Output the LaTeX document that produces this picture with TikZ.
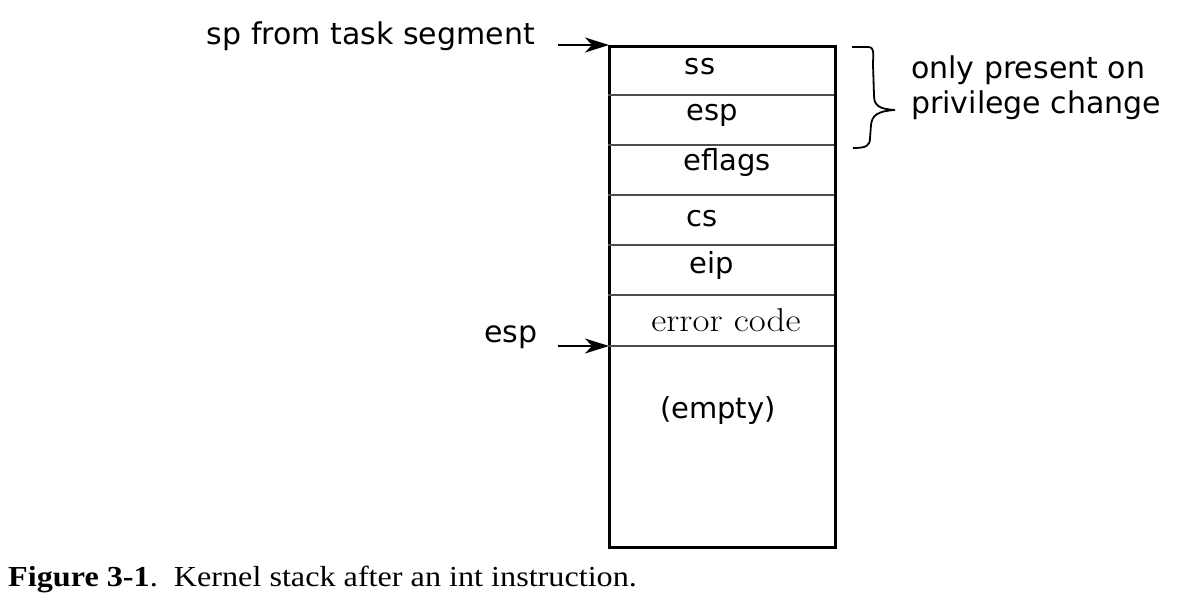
\documentclass[tikz,border=0pt]{standalone}
\usepackage{fontspec}
\setmainfont{Liberation Serif}
\newfontfamily\dvs{DejaVu Sans}
\newfontfamily\lmr{Latin Modern Roman}
\usetikzlibrary{arrows.meta}
\begin{document}
\begin{tikzpicture}[x=1pt,y=-1pt,
  lbl/.style={font=\dvs\fontsize{30}{36}\selectfont, inner sep=0pt},
  cell/.style={font=\dvs\fontsize{29}{34}\selectfont, inner sep=0pt},
  divider/.style={line width=1.4pt, draw=black!70},
  ptr/.style={line width=1.6pt, -{Stealth[length=24pt,width=15pt,inset=7pt]}}]
\useasboundingbox (0,0) rectangle (1199,612);
% stack box
\node[draw, line width=2.8pt, minimum width=226pt, minimum height=501pt, inner sep=0pt, anchor=north west] (stack) at (608,45) {};
\draw[divider] (608,95) -- (834,95);
\draw[divider] (608,145) -- (834,145);
\draw[divider] (608,195) -- (834,195);
\draw[divider] (608,245) -- (834,245);
\draw[divider] (608,295) -- (834,295);
\draw[divider] (608,346) -- (834,346);
% cell labels
\node[cell] (ss) at (700,67) {ss};
\node[cell] (esp2) at (712,115) {esp};
\node[cell] (eflags) at (727,163) {eflags};
\node[cell] (cs) at (702,219) {cs};
\node[cell] (eip) at (712,266) {eip};
\node[font=\lmr\fontsize{33}{38}\selectfont, inner sep=0pt, xscale=1.12] (err) at (726,320) {error code};
\node[cell] (empty) at (718,411) {(empty)};
% pointers
\node[lbl, anchor=east] (sptask) at (535,36) {sp from task segment};
\node[lbl, anchor=west] (esp) at (484,337) {esp};
\coordinate (a1) at (558,45);
\coordinate (b1) at (609,45);
\coordinate (a2) at (558,346);
\coordinate (b2) at (609,346);
\draw[ptr] (a1) -- (b1);
\draw[ptr] (a2) -- (b2);
% brace
\coordinate (bt) at (852,47);
\coordinate (bb) at (853,148);
\coordinate (btip) at (895,110);
\draw[line width=1.8pt, line join=round]
  (bt) -- (868,47) .. controls (875,47) and (873,55) .. (873,65)
  -- (874,95) .. controls (874,105) and (878,109) .. (btip);
\draw[line width=1.8pt, line join=round]
  (btip) .. controls (878,111) and (872,115) .. (871,125)
  -- (870,138) .. controls (870,146) and (866,148) .. (bb);
\node[lbl, anchor=west] (only) at (911,70) {only present on};
\node[lbl, anchor=west] (priv) at (911,105) {privilege change};
% caption
\node[anchor=base west, inner sep=0pt, font=\fontsize{29}{34}\selectfont, xscale=1.11] (cap) at (8,586) {\textbf{Figure 3-1}.\ \ Kernel stack after an int instruction.};
\end{tikzpicture}
\end{document}
